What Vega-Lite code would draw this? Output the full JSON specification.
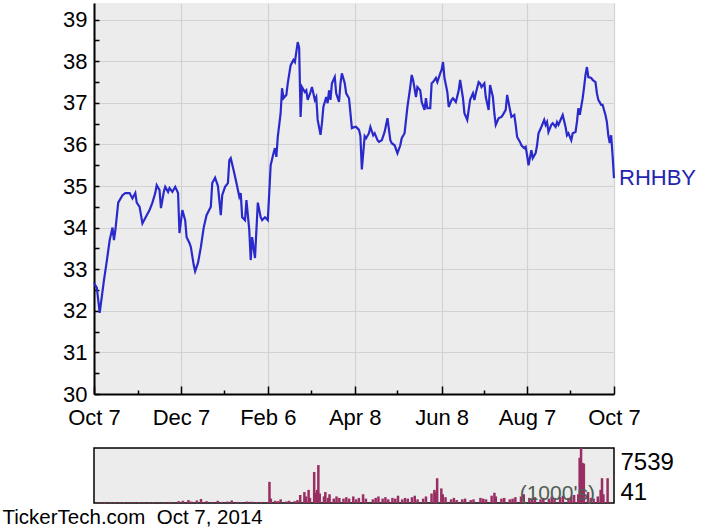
{
  "$schema": "https://vega.github.io/schema/vega-lite/v6.json",
  "padding": {"left": 2, "top": 3, "right": 0, "bottom": 0},
  "background": "white",
  "spacing": 19,
  "config": {
    "font": "Liberation Sans",
    "axis": {"labelFont": "Liberation Sans", "labelColor": "black", "titleFont": "Liberation Sans"}
  },
  "title": {"text": "TickerTech.com\u00a0 Oct 7, 2014", "orient": "bottom", "anchor": "start", "frame": "bounds", "fontSize": 20.5, "fontWeight": "normal", "font": "Liberation Sans", "color": "black", "offset": 3, "dx": -60},
  "datasets": {
    "price": [
      {"date":"2013-10-07","price":32.67},{"date":"2013-10-09","price":32.55},{"date":"2013-10-11","price":31.95},{"date":"2013-10-14","price":32.74},{"date":"2013-10-16","price":33.2},{"date":"2013-10-18","price":33.7},{"date":"2013-10-20","price":34.0},{"date":"2013-10-21","price":33.7},{"date":"2013-10-22","price":33.94},{"date":"2013-10-24","price":34.6},{"date":"2013-10-27","price":34.78},{"date":"2013-10-29","price":34.83},
      {"date":"2013-11-01","price":34.83},{"date":"2013-11-03","price":34.7},{"date":"2013-11-05","price":34.83},{"date":"2013-11-06","price":34.6},{"date":"2013-11-08","price":34.5},{"date":"2013-11-10","price":34.1},{"date":"2013-11-12","price":34.23},{"date":"2013-11-15","price":34.42},{"date":"2013-11-17","price":34.6},{"date":"2013-11-19","price":34.83},{"date":"2013-11-20","price":35.02},{"date":"2013-11-22","price":34.9},{"date":"2013-11-23","price":34.47},{"date":"2013-11-25","price":34.86},{"date":"2013-11-26","price":34.98},{"date":"2013-11-28","price":34.86},{"date":"2013-11-29","price":34.95},
      {"date":"2013-12-01","price":34.86},{"date":"2013-12-03","price":34.98},{"date":"2013-12-05","price":34.83},{"date":"2013-12-06","price":33.87},{"date":"2013-12-08","price":34.42},{"date":"2013-12-10","price":34.18},{"date":"2013-12-11","price":33.77},{"date":"2013-12-13","price":33.63},{"date":"2013-12-14","price":33.53},{"date":"2013-12-16","price":33.1},{"date":"2013-12-17","price":32.95},{"date":"2013-12-19","price":33.15},{"date":"2013-12-21","price":33.53},{"date":"2013-12-23","price":34.0},{"date":"2013-12-25","price":34.3},{"date":"2013-12-28","price":34.5},{"date":"2013-12-29","price":35.07},{"date":"2013-12-31","price":35.2},
      {"date":"2014-01-02","price":35.0},{"date":"2014-01-04","price":34.3},{"date":"2014-01-05","price":34.78},{"date":"2014-01-07","price":34.98},{"date":"2014-01-09","price":35.07},{"date":"2014-01-10","price":35.62},{"date":"2014-01-11","price":35.67},{"date":"2014-01-13","price":35.38},{"date":"2014-01-15","price":35.07},{"date":"2014-01-17","price":34.74},{"date":"2014-01-18","price":34.83},{"date":"2014-01-19","price":34.25},{"date":"2014-01-21","price":34.18},{"date":"2014-01-22","price":34.66},{"date":"2014-01-24","price":33.94},{"date":"2014-01-25","price":33.22},{"date":"2014-01-26","price":33.77},{"date":"2014-01-28","price":33.27},{"date":"2014-01-29","price":33.94},{"date":"2014-01-30","price":34.6},
      {"date":"2014-02-01","price":34.25},{"date":"2014-02-02","price":34.18},{"date":"2014-02-04","price":34.25},{"date":"2014-02-06","price":34.18},{"date":"2014-02-07","price":34.83},{"date":"2014-02-08","price":35.5},{"date":"2014-02-10","price":35.79},{"date":"2014-02-11","price":35.91},{"date":"2014-02-12","price":35.7},{"date":"2014-02-13","price":36.18},{"date":"2014-02-15","price":36.75},{"date":"2014-02-16","price":37.35},{"date":"2014-02-17","price":37.11},{"date":"2014-02-19","price":37.19},{"date":"2014-02-20","price":37.47},{"date":"2014-02-22","price":37.9},{"date":"2014-02-24","price":38.03},{"date":"2014-02-25","price":37.98},{"date":"2014-02-27","price":38.46},{"date":"2014-02-28","price":38.32},
      {"date":"2014-03-01","price":36.66},{"date":"2014-03-02","price":37.38},{"date":"2014-03-04","price":37.26},{"date":"2014-03-05","price":37.3},{"date":"2014-03-06","price":37.07},{"date":"2014-03-08","price":37.26},{"date":"2014-03-09","price":37.38},{"date":"2014-03-11","price":37.07},{"date":"2014-03-12","price":37.14},{"date":"2014-03-13","price":36.59},{"date":"2014-03-15","price":36.23},{"date":"2014-03-16","price":36.51},{"date":"2014-03-17","price":36.9},{"date":"2014-03-19","price":37.14},{"date":"2014-03-20","price":36.99},{"date":"2014-03-21","price":37.3},{"date":"2014-03-22","price":37.07},{"date":"2014-03-23","price":37.47},{"date":"2014-03-25","price":37.62},{"date":"2014-03-26","price":37.23},{"date":"2014-03-28","price":37.02},{"date":"2014-03-29","price":37.47},{"date":"2014-03-30","price":37.71},
      {"date":"2014-04-01","price":37.47},{"date":"2014-04-02","price":37.23},{"date":"2014-04-04","price":37.11},{"date":"2014-04-05","price":36.75},{"date":"2014-04-06","price":36.39},{"date":"2014-04-08","price":36.42},{"date":"2014-04-09","price":36.42},{"date":"2014-04-11","price":36.35},{"date":"2014-04-12","price":36.2},{"date":"2014-04-13","price":35.4},{"date":"2014-04-15","price":36.2},{"date":"2014-04-16","price":36.15},{"date":"2014-04-18","price":36.27},{"date":"2014-04-19","price":36.42},{"date":"2014-04-21","price":36.22},{"date":"2014-04-22","price":36.27},{"date":"2014-04-24","price":36.1},{"date":"2014-04-25","price":36.06},{"date":"2014-04-27","price":36.1},{"date":"2014-04-29","price":36.3},
      {"date":"2014-05-01","price":36.63},{"date":"2014-05-03","price":36.1},{"date":"2014-05-04","price":36.03},{"date":"2014-05-06","price":35.98},{"date":"2014-05-08","price":35.79},{"date":"2014-05-10","price":35.98},{"date":"2014-05-11","price":36.15},{"date":"2014-05-13","price":36.27},{"date":"2014-05-15","price":36.9},{"date":"2014-05-17","price":37.38},{"date":"2014-05-18","price":37.67},{"date":"2014-05-19","price":37.55},{"date":"2014-05-21","price":37.14},{"date":"2014-05-22","price":37.38},{"date":"2014-05-24","price":37.3},{"date":"2014-05-25","price":37.02},{"date":"2014-05-27","price":36.83},{"date":"2014-05-28","price":37.11},{"date":"2014-05-29","price":36.87},{"date":"2014-05-31","price":36.87},
      {"date":"2014-06-01","price":37.47},{"date":"2014-06-02","price":37.5},{"date":"2014-06-04","price":37.6},{"date":"2014-06-05","price":37.5},{"date":"2014-06-07","price":37.71},{"date":"2014-06-08","price":37.79},{"date":"2014-06-09","price":37.98},{"date":"2014-06-10","price":37.6},{"date":"2014-06-12","price":37.26},{"date":"2014-06-13","price":36.9},{"date":"2014-06-15","price":37.07},{"date":"2014-06-16","price":37.11},{"date":"2014-06-18","price":37.02},{"date":"2014-06-20","price":37.3},{"date":"2014-06-21","price":37.55},{"date":"2014-06-23","price":37.11},{"date":"2014-06-24","price":36.75},{"date":"2014-06-26","price":36.59},{"date":"2014-06-28","price":37.07},{"date":"2014-06-30","price":37.23},
      {"date":"2014-07-01","price":37.07},{"date":"2014-07-02","price":37.23},{"date":"2014-07-04","price":37.5},{"date":"2014-07-05","price":37.47},{"date":"2014-07-06","price":37.38},{"date":"2014-07-08","price":37.47},{"date":"2014-07-09","price":37.14},{"date":"2014-07-11","price":36.83},{"date":"2014-07-12","price":37.43},{"date":"2014-07-14","price":37.14},{"date":"2014-07-15","price":36.75},{"date":"2014-07-16","price":36.47},{"date":"2014-07-18","price":36.63},{"date":"2014-07-20","price":36.66},{"date":"2014-07-21","price":36.71},{"date":"2014-07-23","price":36.83},{"date":"2014-07-24","price":37.19},{"date":"2014-07-26","price":36.83},{"date":"2014-07-27","price":36.66},{"date":"2014-07-29","price":36.71},{"date":"2014-07-30","price":36.47},{"date":"2014-07-31","price":36.18},
      {"date":"2014-08-02","price":36.06},{"date":"2014-08-03","price":35.98},{"date":"2014-08-05","price":35.91},{"date":"2014-08-06","price":35.94},{"date":"2014-08-07","price":35.74},{"date":"2014-08-08","price":35.5},{"date":"2014-08-10","price":35.86},{"date":"2014-08-11","price":35.67},{"date":"2014-08-13","price":35.79},{"date":"2014-08-14","price":35.98},{"date":"2014-08-15","price":36.27},{"date":"2014-08-17","price":36.42},{"date":"2014-08-19","price":36.59},{"date":"2014-08-20","price":36.47},{"date":"2014-08-21","price":36.54},{"date":"2014-08-22","price":36.3},{"date":"2014-08-24","price":36.47},{"date":"2014-08-25","price":36.51},{"date":"2014-08-27","price":36.42},{"date":"2014-08-28","price":36.54},{"date":"2014-08-29","price":36.47},{"date":"2014-08-31","price":36.63},
      {"date":"2014-09-01","price":36.71},{"date":"2014-09-03","price":36.42},{"date":"2014-09-04","price":36.22},{"date":"2014-09-05","price":36.27},{"date":"2014-09-07","price":36.1},{"date":"2014-09-08","price":36.27},{"date":"2014-09-10","price":36.3},{"date":"2014-09-11","price":36.54},{"date":"2014-09-12","price":36.87},{"date":"2014-09-13","price":36.71},{"date":"2014-09-15","price":37.11},{"date":"2014-09-16","price":37.38},{"date":"2014-09-17","price":37.67},{"date":"2014-09-18","price":37.86},{"date":"2014-09-19","price":37.62},{"date":"2014-09-21","price":37.6},{"date":"2014-09-22","price":37.55},{"date":"2014-09-24","price":37.5},{"date":"2014-09-25","price":37.23},{"date":"2014-09-26","price":37.07},{"date":"2014-09-28","price":36.95},{"date":"2014-09-29","price":36.95},
      {"date":"2014-10-01","price":36.71},{"date":"2014-10-02","price":36.54},{"date":"2014-10-03","price":36.22},{"date":"2014-10-04","price":36.03},{"date":"2014-10-05","price":36.22},{"date":"2014-10-06","price":35.74},{"date":"2014-10-07","price":35.19}
    ],
    "vol": [
      {"date":"2013-10-08","vol":80},{"date":"2013-10-11","vol":150},{"date":"2013-10-15","vol":100},{"date":"2013-10-18","vol":120},{"date":"2013-10-22","vol":90},{"date":"2013-10-25","vol":140},{"date":"2013-10-29","vol":100},
      {"date":"2013-11-01","vol":80},{"date":"2013-11-05","vol":130},{"date":"2013-11-08","vol":100},{"date":"2013-11-12","vol":90},{"date":"2013-11-15","vol":120},{"date":"2013-11-19","vol":80},{"date":"2013-11-22","vol":100},{"date":"2013-11-26","vol":150},{"date":"2013-11-29","vol":60},
      {"date":"2013-12-03","vol":250},{"date":"2013-12-06","vol":300},{"date":"2013-12-10","vol":400},{"date":"2013-12-12","vol":200},{"date":"2013-12-16","vol":350},{"date":"2013-12-19","vol":550},{"date":"2013-12-23","vol":250},{"date":"2013-12-27","vol":150},{"date":"2013-12-31","vol":300},
      {"date":"2014-01-03","vol":150},{"date":"2014-01-07","vol":200},{"date":"2014-01-10","vol":350},{"date":"2014-01-14","vol":150},{"date":"2014-01-17","vol":100},{"date":"2014-01-21","vol":200},{"date":"2014-01-24","vol":180},{"date":"2014-01-28","vol":120},{"date":"2014-01-31","vol":150},
      {"date":"2014-02-04","vol":100},{"date":"2014-02-06","vol":2900},{"date":"2014-02-07","vol":600},{"date":"2014-02-10","vol":300},{"date":"2014-02-12","vol":250},{"date":"2014-02-14","vol":500},{"date":"2014-02-18","vol":200},{"date":"2014-02-20","vol":300},{"date":"2014-02-24","vol":250},{"date":"2014-02-26","vol":400},{"date":"2014-02-28","vol":1100},
      {"date":"2014-03-03","vol":1500},{"date":"2014-03-04","vol":900},{"date":"2014-03-06","vol":1800},{"date":"2014-03-07","vol":700},{"date":"2014-03-10","vol":4250},{"date":"2014-03-11","vol":1400},{"date":"2014-03-12","vol":1800},{"date":"2014-03-13","vol":5200},{"date":"2014-03-14","vol":1300},{"date":"2014-03-17","vol":900},{"date":"2014-03-18","vol":1500},{"date":"2014-03-20","vol":700},{"date":"2014-03-21","vol":1200},{"date":"2014-03-24","vol":600},{"date":"2014-03-26","vol":900},{"date":"2014-03-28","vol":700},{"date":"2014-03-31","vol":600},
      {"date":"2014-04-02","vol":800},{"date":"2014-04-04","vol":600},{"date":"2014-04-07","vol":900},{"date":"2014-04-09","vol":500},{"date":"2014-04-11","vol":700},{"date":"2014-04-14","vol":1200},{"date":"2014-04-16","vol":600},{"date":"2014-04-21","vol":500},{"date":"2014-04-23","vol":700},{"date":"2014-04-25","vol":900},{"date":"2014-04-28","vol":600},{"date":"2014-04-30","vol":800},
      {"date":"2014-05-02","vol":500},{"date":"2014-05-05","vol":700},{"date":"2014-05-07","vol":600},{"date":"2014-05-09","vol":1000},{"date":"2014-05-12","vol":500},{"date":"2014-05-14","vol":700},{"date":"2014-05-16","vol":600},{"date":"2014-05-19","vol":800},{"date":"2014-05-21","vol":1000},{"date":"2014-05-23","vol":500},{"date":"2014-05-27","vol":600},{"date":"2014-05-29","vol":900},
      {"date":"2014-06-02","vol":1300},{"date":"2014-06-04","vol":1800},{"date":"2014-06-05","vol":1500},{"date":"2014-06-06","vol":3400},{"date":"2014-06-09","vol":2000},{"date":"2014-06-10","vol":1200},{"date":"2014-06-12","vol":800},{"date":"2014-06-16","vol":500},{"date":"2014-06-18","vol":700},{"date":"2014-06-20","vol":400},{"date":"2014-06-24","vol":500},{"date":"2014-06-26","vol":600},{"date":"2014-06-30","vol":400},
      {"date":"2014-07-02","vol":500},{"date":"2014-07-07","vol":700},{"date":"2014-07-09","vol":600},{"date":"2014-07-11","vol":500},{"date":"2014-07-15","vol":1000},{"date":"2014-07-17","vol":1400},{"date":"2014-07-18","vol":900},{"date":"2014-07-22","vol":600},{"date":"2014-07-24","vol":700},{"date":"2014-07-28","vol":500},{"date":"2014-07-30","vol":600},
      {"date":"2014-08-01","vol":800},{"date":"2014-08-05","vol":900},{"date":"2014-08-07","vol":1200},{"date":"2014-08-11","vol":700},{"date":"2014-08-13","vol":600},{"date":"2014-08-15","vol":800},{"date":"2014-08-19","vol":500},{"date":"2014-08-21","vol":700},{"date":"2014-08-25","vol":600},{"date":"2014-08-27","vol":900},{"date":"2014-08-29","vol":700},
      {"date":"2014-09-02","vol":800},{"date":"2014-09-04","vol":1000},{"date":"2014-09-08","vol":700},{"date":"2014-09-10","vol":900},{"date":"2014-09-12","vol":1100},{"date":"2014-09-15","vol":1200},{"date":"2014-09-16","vol":6200},{"date":"2014-09-17","vol":7539},{"date":"2014-09-18","vol":5500},{"date":"2014-09-19","vol":5400},{"date":"2014-09-22","vol":1500},{"date":"2014-09-24","vol":700},{"date":"2014-09-26","vol":600},{"date":"2014-09-29","vol":900},
      {"date":"2014-10-01","vol":1800},{"date":"2014-10-02","vol":3400},{"date":"2014-10-03","vol":1200},{"date":"2014-10-06","vol":3400},{"date":"2014-10-07","vol":41}
    ]
  },
  "vconcat": [
    {
      "width": 520,
      "height": 391,
      "view": {"fill": "#ececec", "stroke": null},
      "resolve": {"axis": {"x": "independent", "y": "independent"}},
      "layer": [
        {
          "data": {"name": "price"},
          "mark": {"type": "line", "color": "#2a2acc", "strokeWidth": 2.2, "interpolate": "linear"},
          "encoding": {
            "x": {"field": "date", "type": "temporal",
              "scale": {"domain": [{"year": 2013, "month": 10, "date": 7}, {"year": 2014, "month": 10, "date": 7}], "nice": false},
              "axis": {"title": null, "orient": "bottom",
                "values": [{"year": 2013, "month": 10, "date": 7}, {"year": 2013, "month": 12, "date": 7}, {"year": 2014, "month": 2, "date": 6}, {"year": 2014, "month": 4, "date": 8}, {"year": 2014, "month": 6, "date": 8}, {"year": 2014, "month": 8, "date": 7}, {"year": 2014, "month": 10, "date": 7}],
                "format": "%b %-d", "labelFontSize": 22, "labelPadding": 21, "labelFlush": false, "labelOverlap": false,
                "tickSize": -8, "tickColor": "black", "tickWidth": 1.5,
                "domainColor": "black", "domainWidth": 2,
                "grid": true, "gridColor": "#d2d2d2", "gridWidth": 1.2}},
            "y": {"field": "price", "type": "quantitative",
              "scale": {"domain": [30, 39.4], "nice": false, "zero": false},
              "axis": {"title": null, "orient": "left",
                "values": [30, 31, 32, 33, 34, 35, 36, 37, 38, 39],
                "labelFontSize": 22, "labelPadding": 12, "labelOverlap": false,
                "tickSize": -5, "tickColor": "black", "tickWidth": 1.5,
                "domainColor": "black", "domainWidth": 2,
                "grid": true, "gridColor": "#d2d2d2", "gridWidth": 1.2}}
          }
        },
        {
          "data": {"values": [{}]},
          "mark": {"type": "text", "align": "left", "baseline": "middle", "dx": 5, "fontSize": 22, "color": "#2424b0", "font": "Liberation Sans"},
          "encoding": {
            "x": {"datum": {"year": 2014, "month": 10, "date": 7}, "type": "temporal",
              "axis": {"orient": "bottom", "title": null, "labels": false, "domain": false, "grid": false,
                "values": [{"year": 2013, "month": 11, "date": 7}, {"year": 2014, "month": 1, "date": 6}, {"year": 2014, "month": 3, "date": 8}, {"year": 2014, "month": 5, "date": 8}, {"year": 2014, "month": 7, "date": 8}, {"year": 2014, "month": 9, "date": 6}],
                "tickSize": -4, "tickColor": "black", "tickWidth": 1.5}},
            "y": {"datum": 35.19, "type": "quantitative",
              "axis": {"orient": "left", "title": null, "labels": false, "domain": false, "grid": false,
                "values": [30.5, 31.5, 32.5, 33.5, 34.5, 35.5, 36.5, 37.5, 38.5],
                "tickSize": -5, "tickColor": "black", "tickWidth": 1.5}},
            "text": {"value": "RHHBY"}
          }
        }
      ]
    },
    {
      "width": 520,
      "height": 55,
      "view": {"fill": "#ececec", "stroke": "black", "strokeWidth": 1.5},
      "layer": [
        {
          "data": {"name": "vol"},
          "mark": {"type": "bar", "width": 2.5, "color": "#992e63"},
          "encoding": {
            "x": {"field": "date", "type": "temporal",
              "scale": {"domain": [{"year": 2013, "month": 10, "date": 7}, {"year": 2014, "month": 10, "date": 7}], "nice": false},
              "axis": null},
            "y": {"field": "vol", "type": "quantitative",
              "scale": {"domain": [0, 7539], "nice": false},
              "axis": {"title": null, "orient": "right", "values": [41, 7539], "format": "d", "ticks": false, "domain": false, "grid": false,
                "labelFontSize": 24, "labelPadding": 6,
                "labelBaseline": {"condition": {"test": "datum.value > 1000", "value": "top"}, "value": "bottom"},
                "labelOffset": {"condition": {"test": "datum.value > 1000", "value": 2}, "value": 2}}}
          }
        },
        {
          "data": {"values": [{}]},
          "mark": {"type": "text", "align": "center", "baseline": "middle", "fontSize": 21, "color": "#4d5e52", "font": "Liberation Sans"},
          "encoding": {
            "x": {"datum": {"year": 2014, "month": 8, "date": 31}, "type": "temporal"},
            "y": {"datum": 1234, "type": "quantitative"},
            "text": {"value": "(1000's)"}
          }
        }
      ]
    }
  ]
}
